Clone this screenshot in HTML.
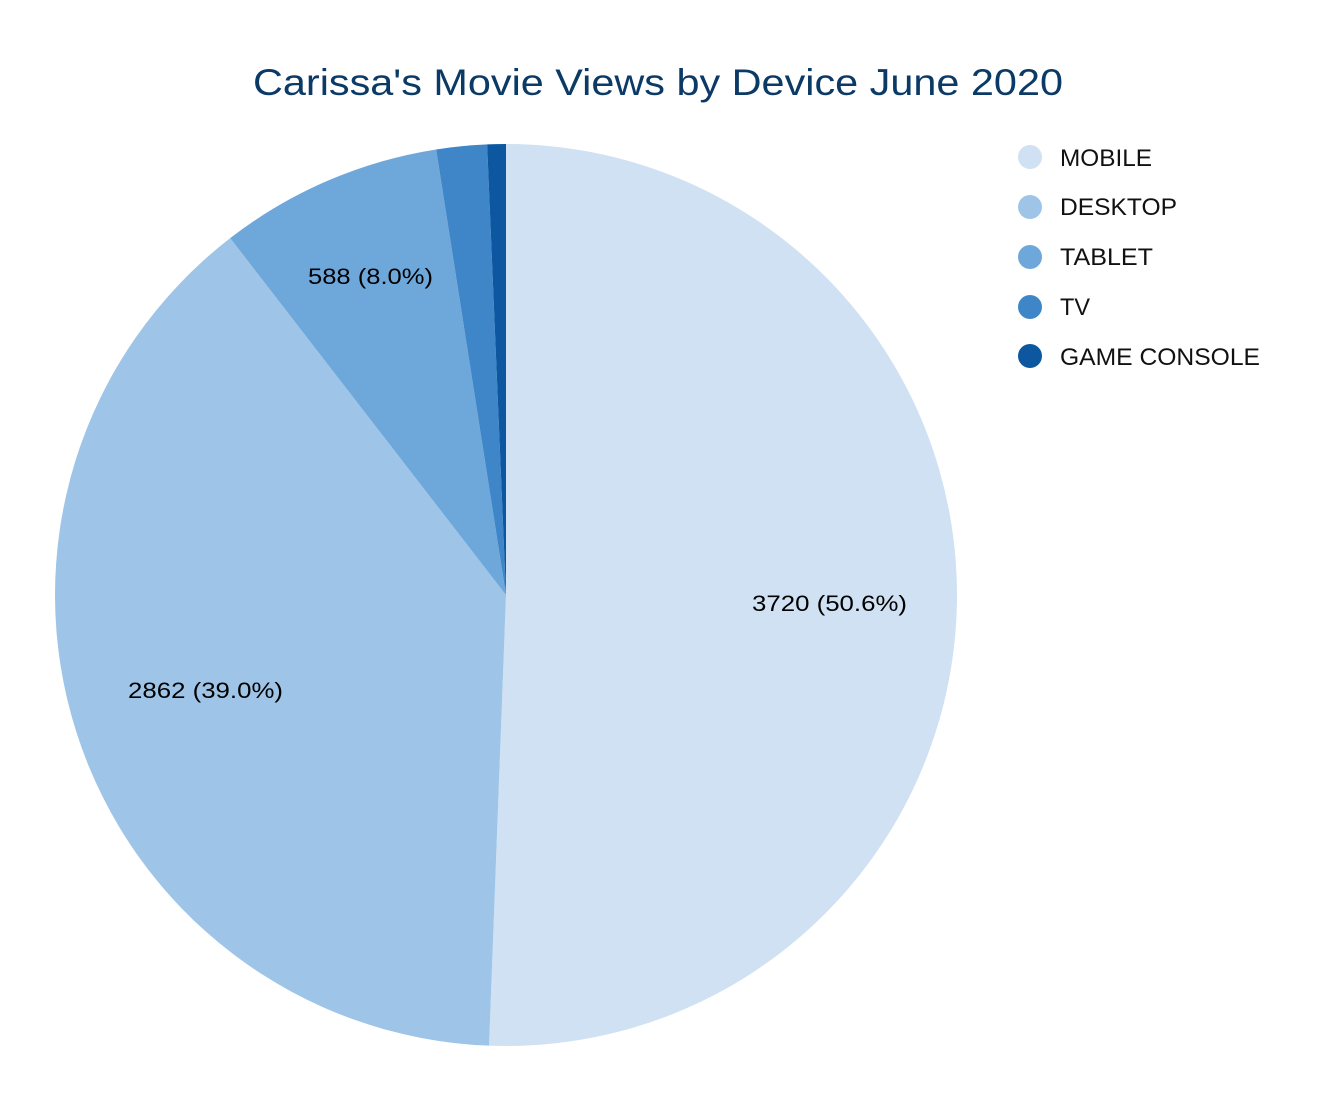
<!DOCTYPE html>
<html><head><meta charset="utf-8"><style>
html,body{margin:0;padding:0;background:#fff;}
svg{display:block;font-family:"Liberation Sans",Arial,sans-serif;}
</style></head><body>
<svg id="s" width="1317" height="1105" viewBox="0 0 1317 1105">
<rect width="1317" height="1105" fill="#fff"/>
<g id="pie"></g>
<text x="253" y="95" font-size="37" fill="#0b3a66" textLength="810" lengthAdjust="spacingAndGlyphs">Carissa's Movie Views by Device June 2020</text>
<g font-size="22" fill="#000">
<text x="752" y="611" textLength="155" lengthAdjust="spacingAndGlyphs">3720 (50.6%)</text>
<text x="128" y="698" textLength="155" lengthAdjust="spacingAndGlyphs">2862 (39.0%)</text>
<text x="308" y="284" textLength="125" lengthAdjust="spacingAndGlyphs">588 (8.0%)</text>
</g>
<g font-size="24" fill="#111">
<circle cx="1030" cy="157" r="12" fill="#cfe1f2"/><text x="1060" y="166" textLength="92" lengthAdjust="spacingAndGlyphs">MOBILE</text>
<circle cx="1030" cy="207" r="12" fill="#9ec5e7"/><text x="1060" y="215" textLength="117" lengthAdjust="spacingAndGlyphs">DESKTOP</text>
<circle cx="1030" cy="257" r="12" fill="#6ea8db"/><text x="1060" y="265" textLength="93" lengthAdjust="spacingAndGlyphs">TABLET</text>
<circle cx="1030" cy="307" r="12" fill="#3f86c8"/><text x="1060" y="315" textLength="30" lengthAdjust="spacingAndGlyphs">TV</text>
<circle cx="1030" cy="356" r="12" fill="#0d57a0"/><text x="1060" y="365" textLength="200" lengthAdjust="spacingAndGlyphs">GAME CONSOLE</text>
</g>
</svg>
<script>
var v=[3720,2862,588,133,49],c=["#cfe1f2","#9ec5e7","#6ea8db","#3f86c8","#0d57a0"];
var t=v.reduce((a,b)=>a+b),cx=506,cy=595,r=451,a=0,g=document.getElementById("pie"),h="";
for(var i=0;i<v.length;i++){var b=a+v[i]/t*2*Math.PI;
var x1=cx+r*Math.sin(a),y1=cy-r*Math.cos(a),x2=cx+r*Math.sin(b),y2=cy-r*Math.cos(b);
h+='<path d="M'+cx+','+cy+'L'+x1+','+y1+'A'+r+','+r+' 0 '+((b-a)>Math.PI?1:0)+' 1 '+x2+','+y2+'Z" fill="'+c[i]+'"/>';a=b;}
g.innerHTML=h;
</script>
</body></html>
